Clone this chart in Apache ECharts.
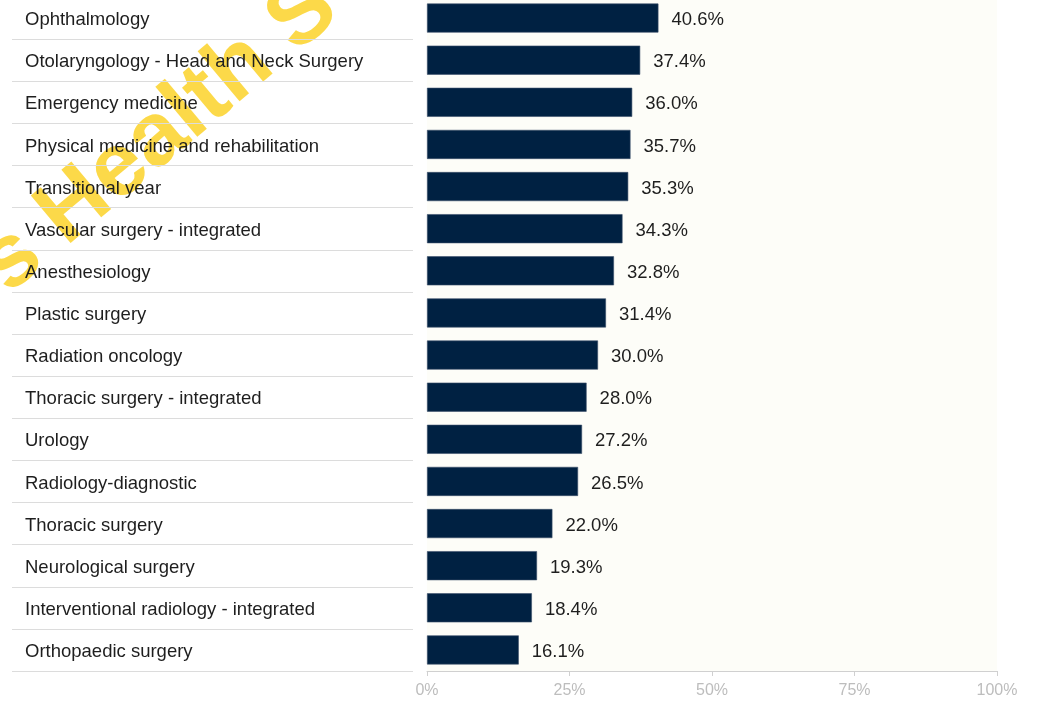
<!DOCTYPE html>
<html>
<head>
<meta charset="utf-8">
<script src="https://cdn.jsdelivr.net/npm/echarts@6/dist/echarts.min.js"></script>
<style>
html,body{margin:0;padding:0;background:#ffffff;}
#chart{width:1037px;height:701px;}
</style>
</head>
<body>
<div id="chart"></div>
<script>
const categories = [
  "Ophthalmology",
  "Otolaryngology - Head and Neck Surgery",
  "Emergency medicine",
  "Physical medicine and rehabilitation",
  "Transitional year",
  "Vascular surgery - integrated",
  "Anesthesiology",
  "Plastic surgery",
  "Radiation oncology",
  "Thoracic surgery - integrated",
  "Urology",
  "Radiology-diagnostic",
  "Thoracic surgery",
  "Neurological surgery",
  "Interventional radiology - integrated",
  "Orthopaedic surgery"
];
const values = [40.6, 37.4, 36.0, 35.7, 35.3, 34.3, 32.8, 31.4, 30.0, 28.0, 27.2, 26.5, 22.0, 19.3, 18.4, 16.1];
const xTicks = [0, 25, 50, 75, 100];
const watermarkText = "\u2019s Health S";

const FONT = "'Liberation Sans', Arial, Helvetica, sans-serif";
const chart = echarts.init(document.getElementById('chart'), null, {renderer: 'canvas'});

const option = {
  animation: false,
  backgroundColor: '#ffffff',
  textStyle: {fontFamily: FONT},
  grid: [
    {left: 12, width: 401, top: -3, height: 674, containLabel: false, outerBoundsMode: 'none'},
    {left: 427, width: 570, top: -3, height: 674, containLabel: false, outerBoundsMode: 'none',
     show: true, backgroundColor: '#fdfdf8', borderWidth: 0}
  ],
  xAxis: [
    {gridIndex: 0, type: 'value', min: 0, max: 1, show: false},
    {gridIndex: 1, type: 'value', min: xTicks[0], max: xTicks[xTicks.length - 1], interval: 25,
     axisLine: {show: true, lineStyle: {color: '#d0d0d0', width: 1}},
     axisTick: {show: true, length: 5, lineStyle: {color: '#d0d0d0'}},
     splitLine: {show: false},
     axisLabel: {color: '#bdbdbd', fontSize: 16, margin: 12, fontFamily: FONT,
       formatter: v => v + '%'}}
  ],
  yAxis: [
    {gridIndex: 0, type: 'category', data: categories, inverse: true, z: 10,
     axisLine: {show: false}, axisTick: {show: false},
     splitLine: {show: true, interval: 0, lineStyle: {color: '#dcdcdc', width: 1}},
     axisLabel: {inside: true, interval: 0, margin: 13, align: 'left',
       formatter: v => '{t|' + v + '}',
       rich: {t: {color: '#1e1e1e', fontSize: 18.5, fontFamily: FONT, padding: [4, 0, 0, 0]}},
       color: '#1e1e1e', fontSize: 18.5, fontFamily: FONT}},
    {gridIndex: 1, type: 'category', data: categories, inverse: true,
     axisLine: {show: false}, axisTick: {show: false}, axisLabel: {show: false},
     splitLine: {show: false}}
  ],
  series: [
    {type: 'bar', xAxisIndex: 1, yAxisIndex: 1, data: values, barWidth: '69%',
     itemStyle: {color: '#002142', borderColor: '#3a4f6a', borderWidth: 0.6},
     label: {show: true, position: 'right', distance: 13, offset: [0, 2], color: '#1e1e1e', fontSize: 18.5,
       fontFamily: FONT, formatter: p => p.value.toFixed(1) + '%'}}
  ],
  graphic: [
    {type: 'text', x: -24, y: 290, rotation: 40 * Math.PI / 180, z: 1,
     style: {text: watermarkText, fill: '#fcd535', opacity: 0.9, fontSize: 90, fontWeight: 'bold',
       fontFamily: FONT, align: 'left', verticalAlign: 'middle'}}
  ]
};
chart.setOption(option);
</script>
</body>
</html>
